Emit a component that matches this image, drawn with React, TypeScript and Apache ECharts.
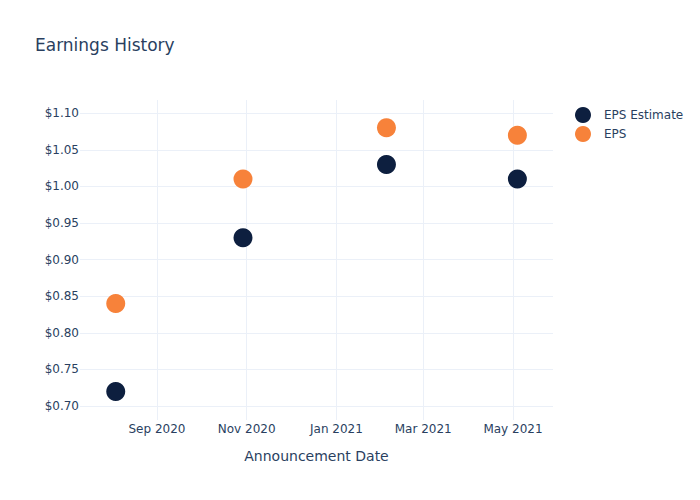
import React, { useEffect, useRef } from "react";
import * as echarts from "echarts";

const announcementDates: number[] = [
  new Date(2020, 7, 4).getTime(),
  new Date(2020, 9, 29, 12).getTime(),
  new Date(2021, 1, 4).getTime(),
  new Date(2021, 4, 4).getTime(),
];
const epsEstimate: number[] = [0.72, 0.93, 1.03, 1.01];
const epsActual: number[] = [0.84, 1.01, 1.08, 1.07];
const seriesNames: string[] = ["EPS Estimate", "EPS"];
const monthNames: string[] = ["Jan", "Feb", "Mar", "Apr", "May", "Jun", "Jul", "Aug", "Sep", "Oct", "Nov", "Dec"];

const FONT = "DejaVu Sans, Verdana, sans-serif";
const TEXT = "#2a3f5f";
const GRID = "#ebf0f8";

export default function App() {
  const ref = useRef<HTMLDivElement>(null);
  useEffect(() => {
    if (!ref.current) return;
    const chart = echarts.init(ref.current, undefined, { renderer: "svg" });
    chart.setOption({
      animation: false,
      backgroundColor: "#ffffff",
      textStyle: { fontFamily: FONT, color: TEXT },
      title: {
        text: "Earnings History",
        left: 30,
        top: 31,
        textStyle: { fontFamily: FONT, fontSize: 17, fontWeight: "normal", color: TEXT },
      },
      legend: {
        orient: "vertical",
        left: 570,
        top: 102,
        itemWidth: 32,
        itemHeight: 16,
        itemGap: 3,
        icon: "circle",
        data: seriesNames,
        textStyle: { fontFamily: FONT, fontSize: 12, color: TEXT },
      },
      grid: { left: 80, right: 147, top: 100, bottom: 80, containLabel: false },
      xAxis: {
        type: "time",
        min: new Date(2020, 6, 10, 17).getTime(),
        max: new Date(2021, 4, 28, 5).getTime(),
        splitNumber: 5,
        name: "Announcement Date",
        nameLocation: "middle",
        nameGap: 29,
        nameTextStyle: { fontFamily: FONT, fontSize: 14, color: TEXT },
        axisLine: { show: false },
        axisTick: { show: false },
        axisLabel: {
          fontFamily: FONT,
          fontSize: 12,
          color: TEXT,
          margin: 3,
          showMinLabel: false,
          showMaxLabel: false,
          formatter: (v: number) => {
            const d = new Date(v);
            return monthNames[d.getMonth()] + " " + d.getFullYear();
          },
        },
        splitLine: { show: true, showMinLine: false, showMaxLine: false, lineStyle: { color: GRID, width: 1 } },
      },
      yAxis: {
        type: "value",
        min: 0.681,
        max: 1.118,
        minInterval: 0.05,
        maxInterval: 0.05,
        axisLine: { show: false },
        axisTick: { show: false },
        axisLabel: {
          fontFamily: FONT,
          fontSize: 12,
          color: TEXT,
          margin: 1,
          showMinLabel: false,
          showMaxLabel: false,
          formatter: (v: number) => "$" + v.toFixed(2),
        },
        splitLine: { show: true, showMinLine: false, showMaxLine: false, lineStyle: { color: GRID, width: 1 } },
      },
      series: [
        {
          name: seriesNames[0],
          type: "scatter",
          symbol: "circle",
          symbolSize: 19,
          itemStyle: { color: "#0d1f3f", opacity: 1 },
          data: announcementDates.map((d, i) => [d, epsEstimate[i]]),
        },
        {
          name: seriesNames[1],
          type: "scatter",
          symbol: "circle",
          symbolSize: 19,
          itemStyle: { color: "#f7823a", opacity: 1 },
          data: announcementDates.map((d, i) => [d, epsActual[i]]),
        },
      ],
    });
    return () => chart.dispose();
  }, []);
  return <div ref={ref} style={{ width: 700, height: 500, position: "absolute", left: 0, top: 0 }} />;
}
